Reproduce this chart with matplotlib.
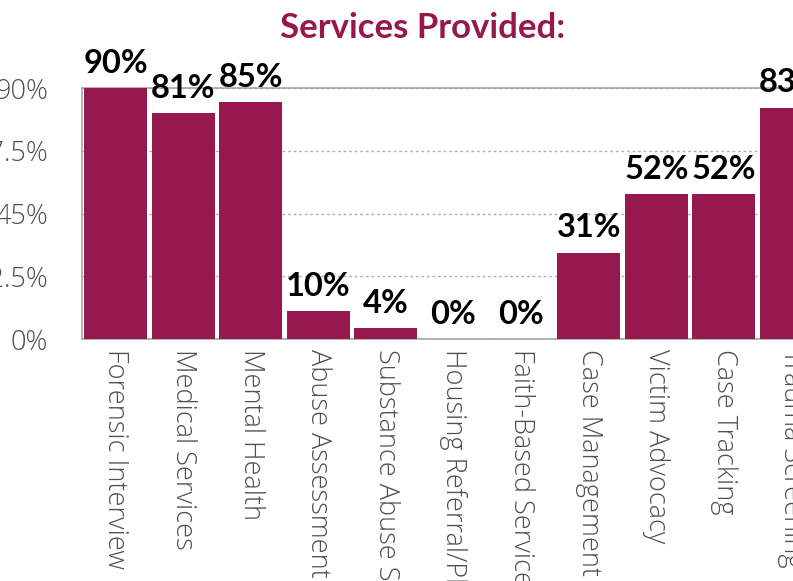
import matplotlib
matplotlib.use('Agg')
import matplotlib.pyplot as plt
import numpy as np

# services shown in the (cropped) chart
services = ['Forensic Interview', 'Medical Services', 'Mental Health',
            'Abuse Assessment', 'Substance Abuse Services', 'Housing Referral/Placement',
            'Faith-Based Services', 'Case Management', 'Victim Advocacy',
            'Case Tracking', 'Trauma Screening']
percent = [90, 81, 85, 10, 4, 0, 0, 31, 52, 52, 83]
yticks = [0, 22.5, 45, 67.5, 90]
ytick_labels = ['0%', '22.5%', '45%', '67.5%', '90%']

bar_color = '#96184F'
gray = '#4f4f4f'

fig = plt.figure(figsize=(7.93, 5.81), dpi=100)
# axes runs past the right edge, the original chart is cut off there
ax = fig.add_axes([0.103, 0.4165, 0.9377, 0.432])

x = np.arange(len(services))
bars = ax.bar(x, percent, width=0.93, color=bar_color, zorder=3)

ax.set_xlim(-0.5, 10.5)
ax.set_ylim(0, 90)
ax.set_yticks(yticks)
ax.set_yticklabels(ytick_labels, fontsize=19.5, color=gray, family='Open Sans',
                   fontweight='light')
ax.set_xticks(x)
ax.set_xticklabels(services, rotation=270, fontsize=19.5, color=gray,
                   family='Open Sans', fontweight='light', va='top', ha='center')
ax.tick_params(axis='y', length=0, pad=24)
ax.tick_params(axis='x', length=0, pad=7)

ax.grid(axis='y', color='#b0b0b0', linestyle=(0, (2, 2)), linewidth=1, zorder=0)
for side in ['left', 'bottom', 'top']:
    ax.spines[side].set_color('#a6a6a6')
    ax.spines[side].set_linewidth(1.2)
ax.spines['right'].set_visible(False)

# value labels above each bar
for rect, v in zip(bars, percent):
    ax.annotate('{}%'.format(v), (rect.get_x() + rect.get_width() / 2, rect.get_height()),
                xytext=(0, 11), textcoords='offset points', ha='center', va='baseline',
                fontsize=23.5, fontweight='bold', family='Lato', color='black',
                annotation_clip=False)

fig.text(0.533, 0.952, 'Services Provided:', ha='center', va='center',
         fontsize=25, fontweight='bold', family='Lato', color=bar_color)

fig.savefig('out.png', dpi=100)
